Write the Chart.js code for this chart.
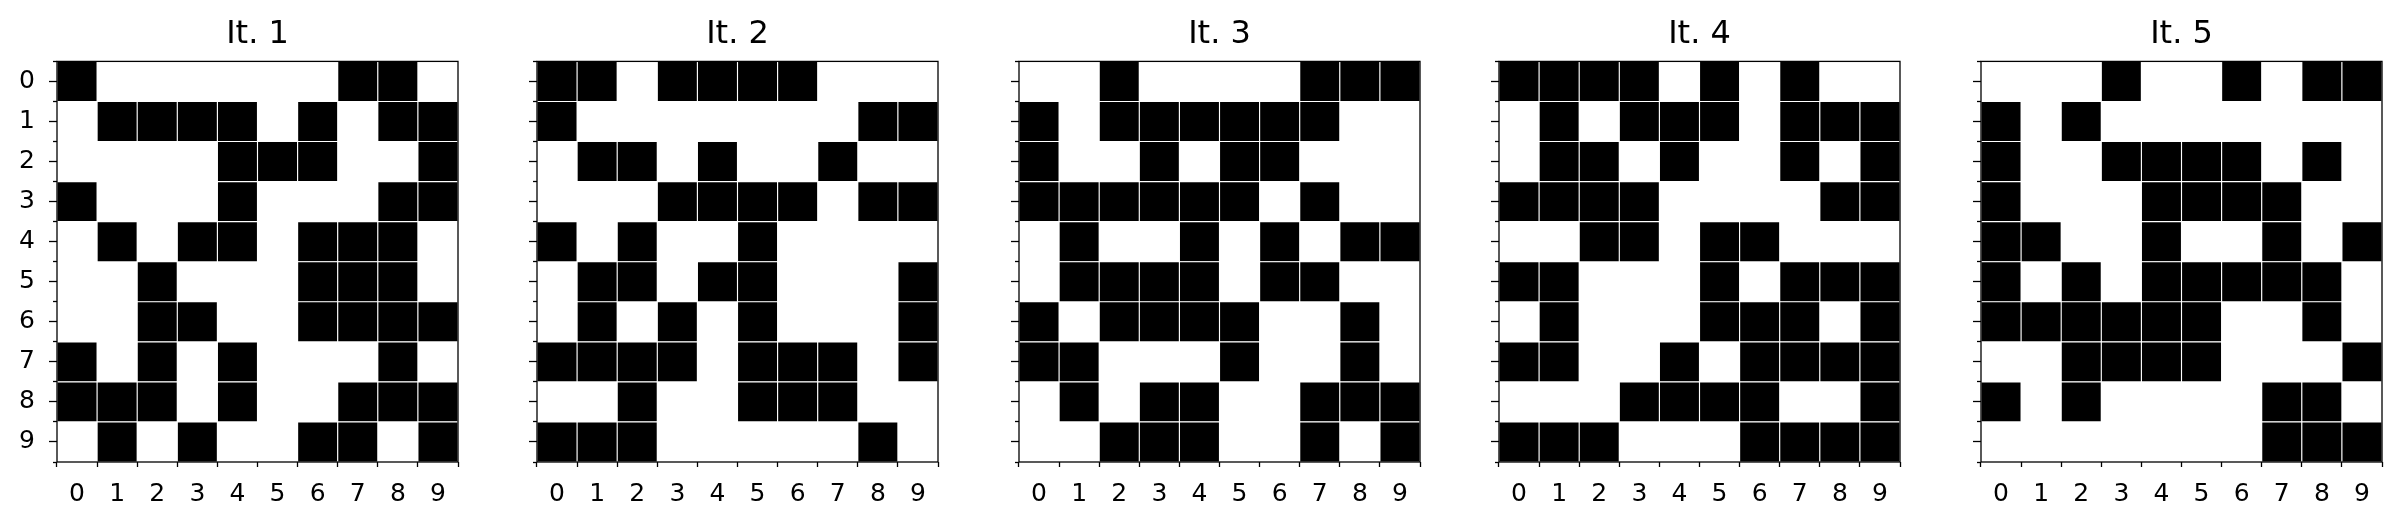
<!DOCTYPE html>
<html>
<head>
<meta charset="utf-8">
<title>It. 1 - It. 5</title>
<script src="https://cdn.jsdelivr.net/npm/chart.js@4"></script>
<style>
  body { margin: 0; background: #fff; width: 2402px; height: 530px; overflow: hidden; position: relative; }
  .panel { position: absolute; top: 0; width: 467px; height: 530px; }
  #p0 { left: 1px; }
  #p1 { left: 481px; }
  #p2 { left: 963px; }
  #p3 { left: 1443px; }
  #p4 { left: 1925px; }
</style>
</head>
<body>
<div class="panel" id="p0"><canvas id="c0"></canvas></div>
<div class="panel" id="p1"><canvas id="c1"></canvas></div>
<div class="panel" id="p2"><canvas id="c2"></canvas></div>
<div class="panel" id="p3"><canvas id="c3"></canvas></div>
<div class="panel" id="p4"><canvas id="c4"></canvas></div>
<script>
// 1 = black cell, one line per row (row 0 at the top)
const it1 = [
    [1,0,0,0,0,0,0,1,1,0],
    [0,1,1,1,1,0,1,0,1,1],
    [0,0,0,0,1,1,1,0,0,1],
    [1,0,0,0,1,0,0,0,1,1],
    [0,1,0,1,1,0,1,1,1,0],
    [0,0,1,0,0,0,1,1,1,0],
    [0,0,1,1,0,0,1,1,1,1],
    [1,0,1,0,1,0,0,0,1,0],
    [1,1,1,0,1,0,0,1,1,1],
    [0,1,0,1,0,0,1,1,0,1]
];
const it2 = [
    [1,1,0,1,1,1,1,0,0,0],
    [1,0,0,0,0,0,0,0,1,1],
    [0,1,1,0,1,0,0,1,0,0],
    [0,0,0,1,1,1,1,0,1,1],
    [1,0,1,0,0,1,0,0,0,0],
    [0,1,1,0,1,1,0,0,0,1],
    [0,1,0,1,0,1,0,0,0,1],
    [1,1,1,1,0,1,1,1,0,1],
    [0,0,1,0,0,1,1,1,0,0],
    [1,1,1,0,0,0,0,0,1,0]
];
const it3 = [
    [0,0,1,0,0,0,0,1,1,1],
    [1,0,1,1,1,1,1,1,0,0],
    [1,0,0,1,0,1,1,0,0,0],
    [1,1,1,1,1,1,0,1,0,0],
    [0,1,0,0,1,0,1,0,1,1],
    [0,1,1,1,1,0,1,1,0,0],
    [1,0,1,1,1,1,0,0,1,0],
    [1,1,0,0,0,1,0,0,1,0],
    [0,1,0,1,1,0,0,1,1,1],
    [0,0,1,1,1,0,0,1,0,1]
];
const it4 = [
    [1,1,1,1,0,1,0,1,0,0],
    [0,1,0,1,1,1,0,1,1,1],
    [0,1,1,0,1,0,0,1,0,1],
    [1,1,1,1,0,0,0,0,1,1],
    [0,0,1,1,0,1,1,0,0,0],
    [1,1,0,0,0,1,0,1,1,1],
    [0,1,0,0,0,1,1,1,0,1],
    [1,1,0,0,1,0,1,1,1,1],
    [0,0,0,1,1,1,1,0,0,1],
    [1,1,1,0,0,0,1,1,1,1]
];
const it5 = [
    [0,0,0,1,0,0,1,0,1,1],
    [1,0,1,0,0,0,0,0,0,0],
    [1,0,0,1,1,1,1,0,1,0],
    [1,0,0,0,1,1,1,1,0,0],
    [1,1,0,0,1,0,0,1,0,1],
    [1,0,1,0,1,1,1,1,1,0],
    [1,1,1,1,1,1,0,0,1,0],
    [0,0,1,1,1,1,0,0,0,1],
    [1,0,1,0,0,0,0,1,1,0],
    [0,0,0,0,0,0,0,1,1,1]
];

const titles = ['It. 1', 'It. 2', 'It. 3', 'It. 4', 'It. 5'];
const rowLabels = ['0', '1', '2', '3', '4', '5', '6', '7', '8', '9'];
const colLabels = ['0', '1', '2', '3', '4', '5', '6', '7', '8', '9'];

const grids = [it1, it2, it3, it4, it5];

Chart.defaults.font.family = "'DejaVu Sans', sans-serif";
Chart.defaults.color = '#000';

// black box around the plot area
const framePlugin = {
    id: 'frame',
    afterDraw(chart) {
        const { ctx, chartArea: a } = chart;
        ctx.save();
        ctx.strokeStyle = '#000';
        ctx.lineWidth = 1.3;
        ctx.strokeRect(a.left, a.top, a.right - a.left, a.bottom - a.top);
        ctx.restore();
    }
};

// turn a 0/1 grid into floating bars, one per black cell
function cellsOf(grid) {
    const cells = [];
    grid.forEach((row, r) => {
        row.forEach((v, c) => {
            if (v) cells.push({ x: colLabels[c], y: [r, r + 1] });
        });
    });
    return cells;
}

function makeChart(i) {
    const ctx = document.getElementById('c' + i).getContext('2d');
    const showRowLabels = i === 0;

    return new Chart(ctx, {
        type: 'bar',
        data: {
            labels: colLabels,
            datasets: [{
                data: cellsOf(grids[i]),
                backgroundColor: '#000',
                borderColor: '#ffffff',
                borderWidth: 0.9,
                borderSkipped: false,
                barPercentage: 1,
                categoryPercentage: 1
            }]
        },
        options: {
            responsive: true,
            maintainAspectRatio: false,
            animation: false,
            layout: { padding: { left: 0, right: 10, top: 0, bottom: 0 } },
            plugins: {
                legend: { display: false },
                tooltip: { enabled: false },
                title: {
                    display: true,
                    text: titles[i],
                    fullSize: false,
                    color: '#000',
                    font: { size: 32, weight: 'normal' },
                    padding: { top: 15, bottom: 8 }
                }
            },
            scales: {
                x: {
                    type: 'category',
                    offset: true,
                    grid: { offset: true, drawOnChartArea: false, tickLength: 5, tickWidth: 1.3, tickColor: '#000' },
                    border: { display: false },
                    ticks: { font: { size: 25 }, padding: 12, maxRotation: 0, autoSkip: false },
                    afterFit: s => { s.height = 68; }
                },
                y: {
                    type: 'linear',
                    position: 'left',
                    weight: 2,
                    min: 0,
                    max: rowLabels.length,
                    reverse: true,
                    afterBuildTicks: s => { s.ticks = rowLabels.map((l, k) => ({ value: k + 0.5 })); },
                    ticks: {
                        font: { size: 25 },
                        padding: 14,
                        callback: (v, k) => showRowLabels ? rowLabels[k] : ''
                    },
                    grid: { drawOnChartArea: false, tickLength: 8, tickWidth: 1.3, tickColor: '#000' },
                    border: { display: false },
                    afterFit: s => { s.width = 56; }
                },
                yMinor: {
                    type: 'linear',
                    position: 'left',
                    weight: 1,
                    min: 0,
                    max: rowLabels.length,
                    reverse: true,
                    afterBuildTicks: s => {
                        s.ticks = rowLabels.map((l, k) => ({ value: k })).concat([{ value: rowLabels.length }]);
                    },
                    ticks: { callback: () => '' },
                    grid: { drawOnChartArea: false, tickLength: 4, tickWidth: 1.3, tickColor: '#000' },
                    border: { display: false },
                    afterFit: s => { s.width = 0; }
                }
            }
        },
        plugins: [framePlugin]
    });
}

document.addEventListener('DOMContentLoaded', function() {
    titles.forEach((t, i) => makeChart(i));
});
</script>
</body>
</html>
